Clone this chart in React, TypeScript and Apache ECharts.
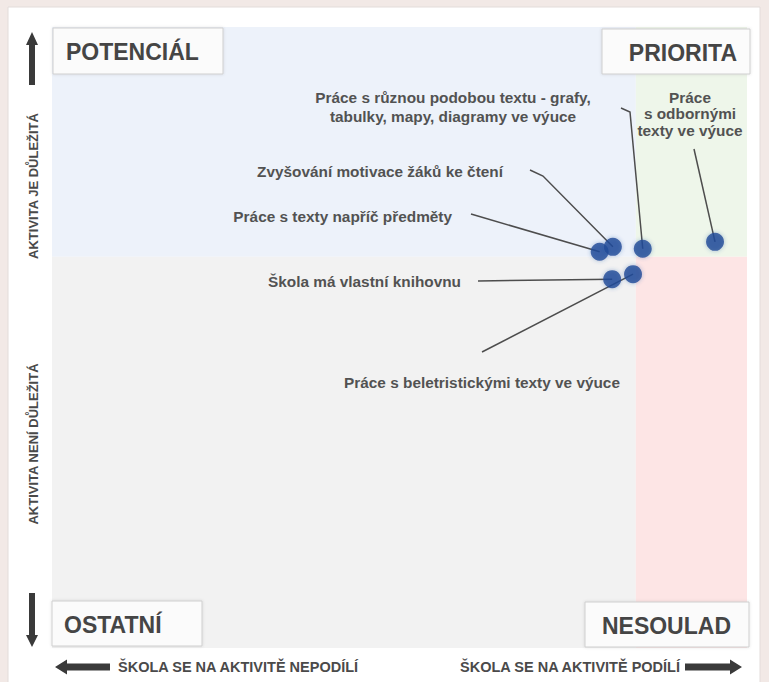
import React, { useEffect, useRef } from "react";
import * as echarts from "echarts";

// ---- data ----
const pointNames = [
  "Práce s texty napříč předměty",
  "Zvyšování motivace žáků ke čtení",
  "Práce s různou podobou textu - grafy, tabulky, mapy, diagramy ve výuce",
  "Práce s odbornými texty ve výuce",
  "Škola má vlastní knihovnu",
  "Práce s beletristickými texty ve výuce",
];
const pointX = [78.8, 80.7, 85.0, 95.4, 80.6, 83.6];
const pointY = [63.8, 64.6, 64.3, 65.4, 59.4, 60.2];
const splitX = 84;
const splitY = 63;
const quadrantLabels = ["POTENCIÁL", "PRIORITA", "OSTATNÍ", "NESOULAD"];
const yAxisTexts = ["AKTIVITA JE DŮLEŽITÁ", "AKTIVITA NENÍ DŮLEŽITÁ"];
const xAxisTexts = ["ŠKOLA SE NA AKTIVITĚ NEPODÍLÍ", "ŠKOLA SE NA AKTIVITĚ PODÍLÍ"];
const pointLabelTexts = [
  "Práce s texty napříč předměty",
  "Zvyšování motivace žáků ke čtení",
  "Práce s různou podobou textu - grafy,\ntabulky, mapy, diagramy ve výuce",
  "Práce\ns odbornými\ntexty ve výuce",
  "Škola má vlastní knihovnu",
  "Práce s beletristickými texty ve výuce",
];

const FONT = '"Liberation Sans", Arial, sans-serif';
const LABEL_COLOR = "#525252";

export default function App() {
  const ref = useRef<HTMLDivElement>(null);

  useEffect(() => {
    if (!ref.current) return;
    const chart = echarts.init(ref.current, undefined, { renderer: "svg" });

    const quadColors = ["#edf2fa", "#eef6ea", "#f2f2f2", "#fde5e5"];
    const areaData = [
      [{ xAxis: 0, yAxis: splitY, itemStyle: { color: quadColors[0] } }, { xAxis: splitX, yAxis: 100 }],
      [{ xAxis: splitX, yAxis: splitY, itemStyle: { color: quadColors[1] } }, { xAxis: 100, yAxis: 100 }],
      [{ xAxis: 0, yAxis: 0, itemStyle: { color: quadColors[2] } }, { xAxis: splitX, yAxis: splitY }],
      [{ xAxis: splitX, yAxis: 0, itemStyle: { color: quadColors[3] } }, { xAxis: 100, yAxis: splitY }],
    ];

    chart.setOption({
      animation: false,
      backgroundColor: "#f2e9e6",
      grid: { left: 52, right: 22, top: 27, bottom: 34 },
      xAxis: { type: "value", min: 0, max: 100, show: false },
      yAxis: { type: "value", min: 0, max: 100, show: false },
      series: [
        {
          type: "scatter",
          z: 1,
          silent: true,
          data: [],
          markArea: { silent: true, data: areaData },
        },
        {
          type: "scatter",
          name: "Aktivity",
          z: 5,
          symbol: "circle",
          symbolSize: 18,
          itemStyle: {
            color: "#214a97",
            shadowBlur: 4,
            shadowColor: "rgba(40,80,160,0.45)",
          },
          data: pointX.map((x, i) => ({ value: [x, pointY[i]], name: pointNames[i] })),
        },
      ],
    });

    const px = pointX.map((x, i) => chart.convertToPixel({ gridIndex: 0 }, [x, pointY[i]]) as number[]);

    const lineStyle = { stroke: "#4d4d4d", lineWidth: 1.5 };

    // label anchors (layout) and leader line starts
    const labelPos = [
      { x: 452, y: 217, align: "right", lh: 18 },
      { x: 503, y: 172, align: "right", lh: 18 },
      { x: 453, y: 107.5, align: "center", lh: 19 },
      { x: 690, y: 114, align: "center", lh: 16.5 },
      { x: 461, y: 282, align: "right", lh: 18 },
      { x: 482, y: 383, align: "center", lh: 18 },
    ];
    const leaderStarts: number[][][] = [
      [[471, 214]],
      [[530, 170], [543, 176]],
      [[621, 108], [630, 112]],
      [[694, 149]],
      [[478, 281]],
      [[482, 352]],
    ];

    const graphics: any[] = [];
    // white card
    graphics.push({
      type: "rect",
      z: 0,
      shape: { x: 8, y: 7, width: 752, height: 690 },
      style: { fill: "#ffffff", stroke: "#e3dcda", lineWidth: 1 },
    });

    leaderStarts.forEach((pts, i) => {
      graphics.push({
        type: "polyline",
        z: 3,
        shape: { points: [...pts, px[i]] },
        style: lineStyle,
      });
    });

    pointLabelTexts.forEach((t, i) => {
      const p = labelPos[i];
      graphics.push({
        type: "text",
        z: 10,
        x: p.x,
        y: p.y,
        scaleX: 1.06,
        style: {
          text: t,
          fill: LABEL_COLOR,
          fontFamily: FONT,
          fontWeight: "bold",
          fontSize: 14.5,
          align: p.align,
          verticalAlign: "middle",
          lineHeight: p.lh,
        },
      });
    });

    // quadrant boxes
    const boxes = [
      { x: 53, y: 28, w: 170, h: 46, tx: 66, align: "left" },
      { x: 602, y: 29, w: 148, h: 45, tx: 737, align: "right" },
      { x: 52, y: 601, w: 150, h: 45, tx: 64, align: "left" },
      { x: 585, y: 602, w: 164, h: 45, tx: 731, align: "right" },
    ];
    boxes.forEach((b, i) => {
      graphics.push({
        type: "rect",
        z: 8,
        shape: { x: b.x, y: b.y, width: b.w, height: b.h },
        style: {
          fill: "#fbfbfb",
          stroke: "#cfcfcf",
          lineWidth: 1,
          shadowBlur: 3,
          shadowColor: "rgba(0,0,0,0.12)",
        },
      });
      graphics.push({
        type: "text",
        z: 9,
        x: b.tx,
        y: b.y + b.h / 2 + 1,
        style: {
          text: quadrantLabels[i],
          fill: "#454545",
          fontFamily: FONT,
          fontWeight: "bold",
          fontSize: 23,
          align: b.align,
          verticalAlign: "middle",
        },
      });
    });

    // vertical axis texts
    const vCenters = [186, 444];
    yAxisTexts.forEach((t, i) => {
      graphics.push({
        type: "text",
        z: 10,
        x: 33,
        y: vCenters[i],
        rotation: Math.PI / 2,
        style: {
          text: t,
          fill: "#4a4a4a",
          fontFamily: FONT,
          fontWeight: "bold",
          fontSize: 13,
          align: "center",
          verticalAlign: "middle",
        },
      });
    });

    // horizontal axis texts
    const hPos = [
      { x: 118, align: "left" },
      { x: 680, align: "right" },
    ];
    xAxisTexts.forEach((t, i) => {
      graphics.push({
        type: "text",
        z: 10,
        x: hPos[i].x,
        y: 667,
        style: {
          text: t,
          fill: "#4a4a4a",
          fontFamily: FONT,
          fontWeight: "bold",
          fontSize: 14.5,
          align: hPos[i].align,
          verticalAlign: "middle",
        },
      });
    });

    // arrows
    const arrowFill = "#3a3a3a";
    const arrows = [
      [[32, 32], [38, 45], [35, 45], [35, 85], [29, 85], [29, 45], [26, 45]],
      [[32, 647], [38, 635], [35, 635], [35, 593], [29, 593], [29, 635], [26, 635]],
      [[55, 667], [67, 659.5], [67, 663.5], [110, 663.5], [110, 670.5], [67, 670.5], [67, 674.5]],
      [[742, 667], [730, 659.5], [730, 663.5], [685, 663.5], [685, 670.5], [730, 670.5], [730, 674.5]],
    ];
    arrows.forEach((pts) => {
      graphics.push({
        type: "polygon",
        z: 10,
        shape: { points: pts },
        style: { fill: arrowFill },
      });
    });

    chart.setOption({ graphic: graphics });

    return () => chart.dispose();
  }, []);

  return (
    <div
      ref={ref}
      style={{ position: "fixed", left: 0, top: 0, width: 769, height: 682 }}
    />
  );
}
